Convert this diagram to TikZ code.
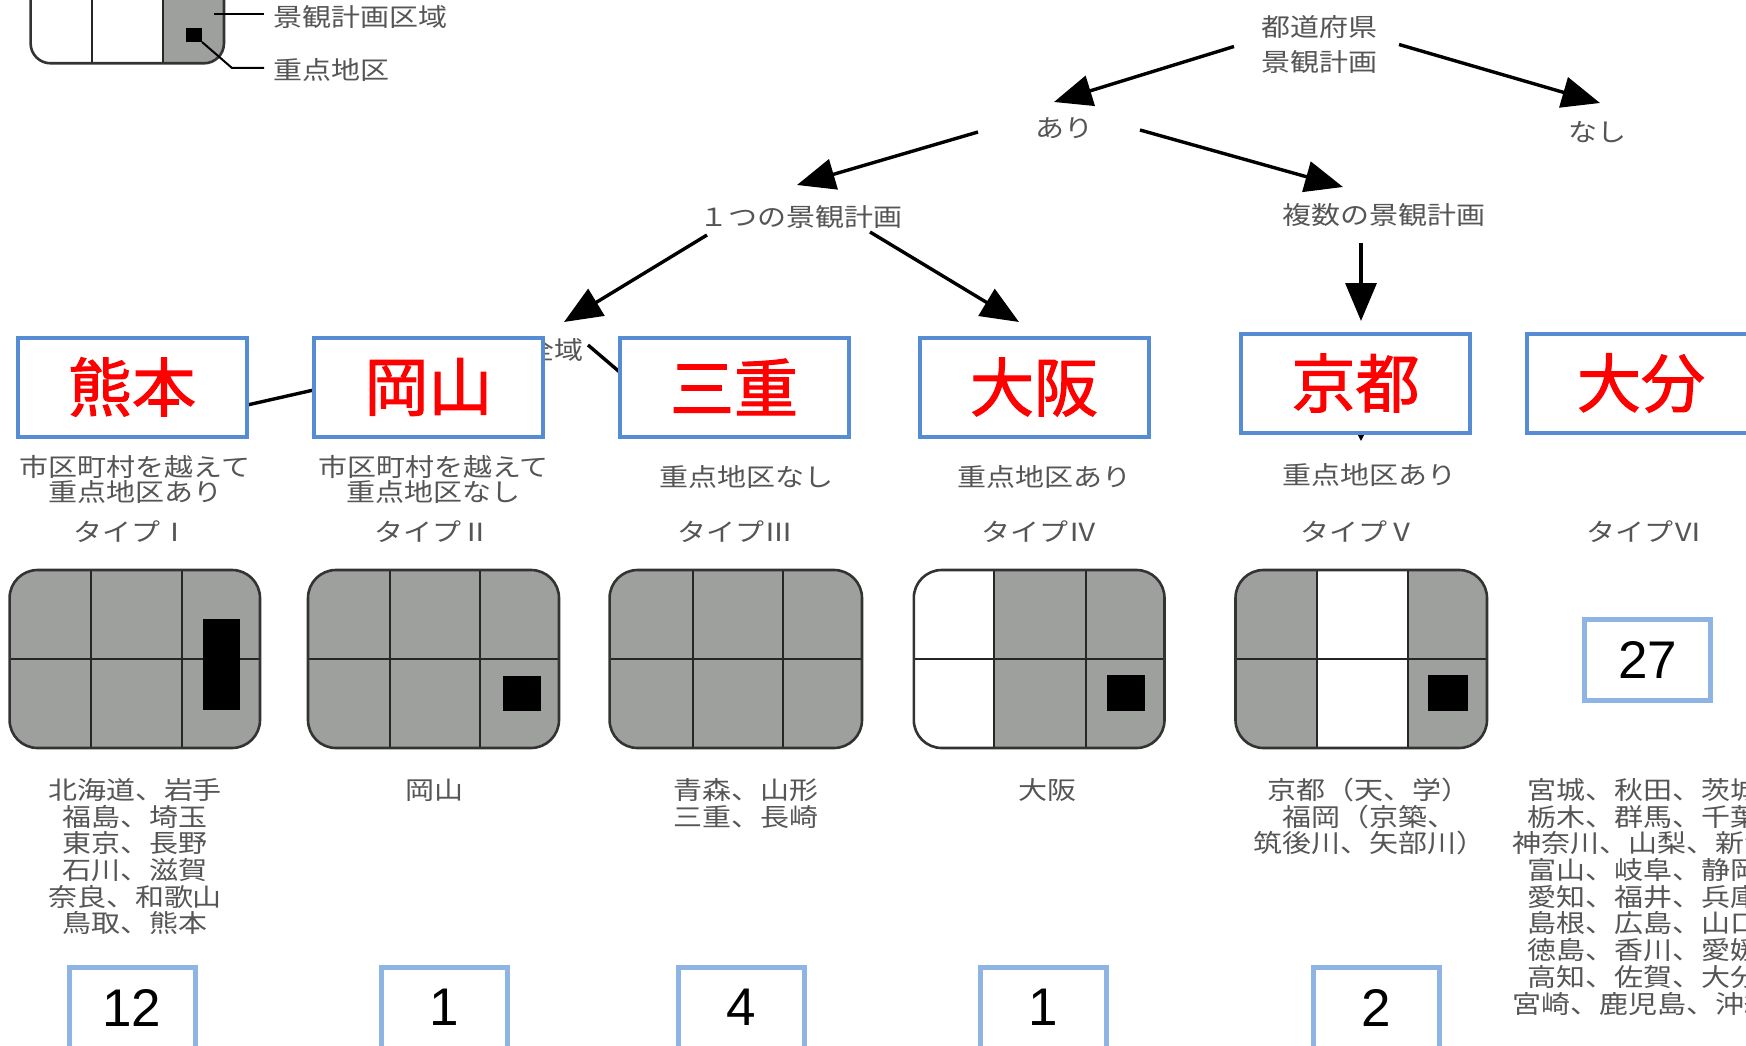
\documentclass[tikz,border=0pt]{standalone}
\usepackage{fontspec}
\usetikzlibrary{arrows.meta,calc}
\newfontfamily\jp[FakeStretch=1.16]{Noto Sans CJK JP}
\newfontfamily\jpb[FakeBold=1.6]{Noto Sans CJK JP}
\newfontfamily\numf{Liberation Sans}
\definecolor{txtgray}{RGB}{85,85,85}
\definecolor{mapgray}{RGB}{158,160,158}
\definecolor{lblblue}{RGB}{86,140,212}
\definecolor{numblue}{RGB}{141,180,226}
\definecolor{lblred}{RGB}{255,0,0}
\tikzset{
  jtxt/.style={font=\jp\fontsize{25}{25}\selectfont, text=txtgray, inner sep=0pt, align=center},
  toptxt/.style={font=\jp\fontsize{25}{35}\selectfont, text=txtgray, inner sep=0pt, align=center},
  lst/.style={font=\jp\fontsize{25}{26.7}\selectfont, text=txtgray, inner sep=0pt, align=center},
  redbox/.style={draw=lblblue, line width=4pt, fill=white, minimum width=229pt, minimum height=99pt,
    font=\jpb\fontsize{64}{64}\selectfont, text=lblred, inner sep=0pt},
  numbox/.style={draw=numblue, line width=5pt, fill=white, minimum width=126pt, minimum height=81pt,
    font=\numf\fontsize{53}{53}\selectfont, text=black, inner sep=0pt},
  arr/.style={line width=3.4pt, -{Triangle[length=38pt,width=31pt]}},
  smallarr/.style={line width=1.6pt, -{Triangle[length=9pt,width=9pt]}},
  leader/.style={line width=2pt, black},
  gridl/.style={line width=2pt, black!85},
  mapedge/.style={line width=2.6pt, black!80, rounded corners=28pt},
  mapfill/.style={fill=mapgray, rounded corners=28pt},
}
\begin{document}
\begin{tikzpicture}[x=1pt,y=-1pt]
\useasboundingbox (0,0) rectangle (1746,1046);
\clip (0,0) rectangle (1746,1046);
\fill[white] (0,0) rectangle (1746,1046);

% ---------- legend ----------
\begin{scope}
  \clip[rounded corners=20pt] (30.6,-110) rectangle (224,63.3);
  \fill[mapgray] (163,-110) rectangle (224,63.3);
\end{scope}
\draw[gridl] (92,-110) -- (92,63.3) (163,-110) -- (163,63.3);
\fill[black] (186,28) rectangle (202,42);
\draw[line width=2.6pt, black!80, rounded corners=20pt] (30.6,-110) rectangle (224,63.3);
\node[jtxt, anchor=west] (lg1) at (273,17) {景観計画区域};
\node[jtxt, anchor=west] (lg2) at (273,70) {重点地区};
\draw[leader] ($(lg1.west)+(-59,-3)$) -- ($(lg1.west)+(-9,-3)$);
\draw[leader] ($(lg2.west)+(-71,-28)$) -- ($(lg2.west)+(-41,-2)$) -- ($(lg2.west)+(-9,-2)$);

% ---------- tree texts ----------
\node[toptxt] (pref) at (1319,44.5) {都道府県\\景観計画};
\node[jtxt] (ari) at (1064,128) {あり};
\node[jtxt] (nasi) at (1597,132) {なし};
\node[jtxt] (hitotsu) at (801,217) {１つの景観計画};
\node[jtxt] (fukusu) at (1384,215) {複数の景観計画};
\node[jtxt] (zeniki) at (554,350) {全域};

% label box positions (for connectors drawn beneath them)
\coordinate (kumaC) at (132,387);
\coordinate (mieC) at (734,387);
\coordinate (osakaC) at (1034,387);
\coordinate (kyotoC) at (1355.5,383);

% ---------- connectors ----------
\draw[arr] ($(pref)+(-85,2)$) -- ($(ari)+(-10,-26)$);
\draw[arr] ($(pref)+(80,0)$) -- ($(nasi)+(3,-29)$);
\draw[arr] ($(ari)+(-86,4)$) -- ($(hitotsu)+(-4,-32)$);
\draw[arr] ($(ari)+(76,2)$) -- ($(fukusu)+(-41,-28)$);
\draw[arr] ($(hitotsu)+(-94,18)$) -- ($(zeniki)+(10,-28)$);
\draw[arr] ($(hitotsu)+(69,15)$) -- ($(osakaC)+(-15,-65)$);
\draw[arr] ($(fukusu)+(-23,28)$) -- ($(kyotoC)+(5.5,-62)$);
\draw[arr] ($(zeniki)+(-28,-8)$) -- ($(kumaC)+(18,40)$);
\draw[arr] ($(zeniki)+(34,-5)$) -- ($(mieC)+(-50,40)$);
\draw[smallarr] ($(kyotoC)+(5.5,25)$) -- ($(kyotoC)+(5.5,58)$);

% ---------- red label boxes ----------
\node[redbox] (kuma) at (kumaC) {熊本};
\node[redbox] (okay) at (428.5,387) {岡山};
\node[redbox] (mie) at (mieC) {三重};
\node[redbox] (osaka) at (osakaC) {大阪};
\node[redbox] (kyoto) at (kyotoC) {京都};
\node[redbox] (oita) at (1641,383) {大分};

% ---------- descriptions ----------
\node[jtxt] (dI) at (135,479.5) {市区町村を越えて\\重点地区あり};
\node[jtxt] (dII) at (433.5,479.5) {市区町村を越えて\\重点地区なし};
\node[jtxt] (dIII) at (746,477) {重点地区なし};
\node[jtxt] (dIV) at (1044,477) {重点地区あり};
\node[jtxt] (dV) at (1369,475) {重点地区あり};
\node[jtxt] (tI) at (131,532) {タイプⅠ};
\node[jtxt] (tII) at (432,532) {タイプⅡ};
\node[jtxt] (tIII) at (735.5,532) {タイプⅢ};
\node[jtxt] (tIV) at (1039,532) {タイプⅣ};
\node[jtxt] (tV) at (1358,532) {タイプⅤ};
\node[jtxt] (tVI) at (1644,532) {タイプⅥ};

% ---------- maps ----------
% Type I
\fill[mapfill] (9.6,570) rectangle (260,748);
\draw[gridl] (90.7,570) -- (90.7,748) (181.8,570) -- (181.8,748) (9.6,659) -- (260,659);
\fill[black] (203,619) rectangle (240,710);
\draw[mapedge] (9.6,570) rectangle (260,748);
% Type II
\fill[mapfill] (308,570) rectangle (559,748);
\draw[gridl] (390,570) -- (390,748) (480,570) -- (480,748) (308,659) -- (559,659);
\fill[black] (503,676) rectangle (541,711);
\draw[mapedge] (308,570) rectangle (559,748);
% Type III
\fill[mapfill] (609.6,570) rectangle (862,748);
\draw[gridl] (692.6,570) -- (692.6,748) (783,570) -- (783,748) (609.6,659) -- (862,659);
\draw[mapedge] (609.6,570) rectangle (862,748);
% Type IV
\fill[mapfill] (913.8,570) rectangle (1164.5,748);
\begin{scope}
  \clip[rounded corners=28pt] (913.8,570) rectangle (1164.5,748);
  \fill[white] (913.8,570) rectangle (994,748);
\end{scope}
\draw[gridl] (994,570) -- (994,748) (1086,570) -- (1086,748) (913.8,659) -- (1164.5,659);
\fill[black] (1107,675) rectangle (1145,711);
\draw[mapedge] (913.8,570) rectangle (1164.5,748);
% Type V
\fill[mapfill] (1235.5,570) rectangle (1487,748);
\begin{scope}
  \clip[rounded corners=28pt] (1235.5,570) rectangle (1487,748);
  \fill[white] (1317,570) rectangle (1408,748);
\end{scope}
\draw[gridl] (1317,570) -- (1317,748) (1408,570) -- (1408,748) (1235.5,659) -- (1487,659);
\fill[black] (1428,675) rectangle (1468,711);
\draw[mapedge] (1235.5,570) rectangle (1487,748);

% ---------- prefecture lists ----------
\node[lst] (l1) at (135,856.75) {北海道、岩手\\福島、埼玉\\東京、長野\\石川、滋賀\\奈良、和歌山\\鳥取、熊本};
\node[lst] (l2) at (434,790) {岡山};
\node[lst] (l3) at (746,803.3) {青森、山形\\三重、長崎};
\node[lst] (l4) at (1047,790) {大阪};
\node[lst] (l5) at (1369,816.7) {京都（天、学）\\福岡（京築、\\筑後川、矢部川）};
\node[lst] (l6) at (1643,896.8) {宮城、秋田、茨城\\栃木、群馬、千葉\\神奈川、山梨、新潟\\富山、岐阜、静岡\\愛知、福井、兵庫\\島根、広島、山口\\徳島、香川、愛媛\\高知、佐賀、大分\\宮崎、鹿児島、沖縄};

% ---------- counts ----------
\node[numbox] (n1) at (132,1007.5) {12};
\node[numbox] (n2) at (444,1007.5) {1};
\node[numbox] (n3) at (741,1007.5) {4};
\node[numbox] (n4) at (1043,1007.5) {1};
\node[numbox] (n5) at (1376,1007.5) {2};
\node[numbox] (n6) at (1647.5,659.5) {27};
\end{tikzpicture}
\end{document}
